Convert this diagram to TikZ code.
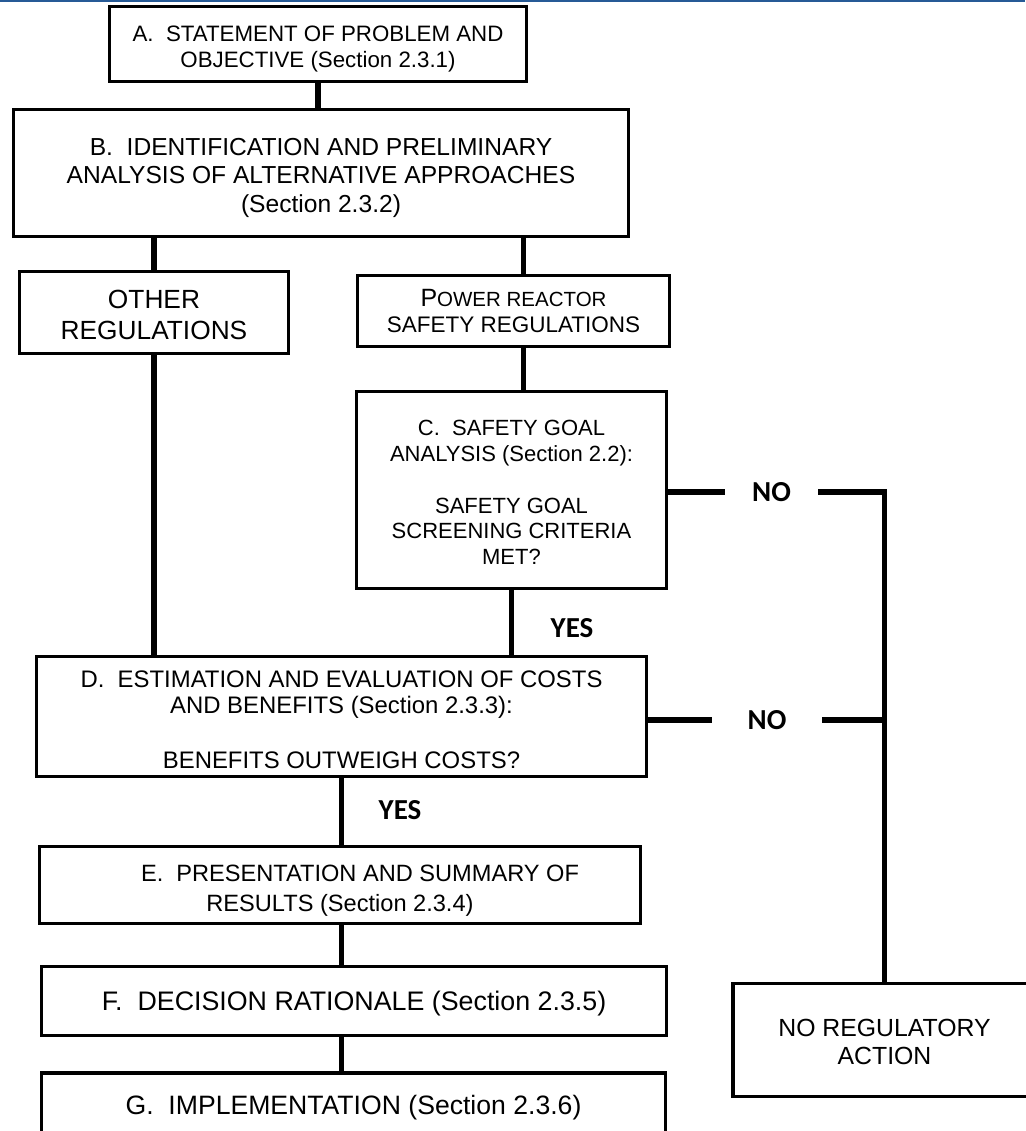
\documentclass[tikz,border=0pt]{standalone}
\usepackage{fontspec}
\setmainfont{Liberation Sans}
\newfontfamily\lblfont{Carlito}
\definecolor{topblue}{RGB}{38,90,150}
\newcommand\dn[1]{\rule{0pt}{\dimexpr0.75em+#1\relax}}
\begin{document}
\begin{tikzpicture}[x=1pt,y=-1pt,
  box/.style={draw, line width=3.5pt, rectangle, align=center, inner sep=0pt},
  conn/.style={line width=5.5pt, line join=miter},
  lbl/.style={font=\lblfont\bfseries\fontsize{29}{34}\selectfont, inner sep=0pt}]
\useasboundingbox (0,0) rectangle (1025,1131);
\fill[topblue] (0,0) rectangle (1025,2.5);

\node[box, minimum width=417, minimum height=75, font=\fontsize{22.3}{26}\selectfont] (A) at (318,44)
  {\dn{8pt}A.\ \ STATEMENT OF PROBLEM AND\\OBJECTIVE (Section 2.3.1)};
\node[box, minimum width=615, minimum height=127, font=\fontsize{24.6}{28.5}\selectfont] (B) at (321,173)
  {\dn{8pt}B.\ \ IDENTIFICATION AND PRELIMINARY\\ANALYSIS OF ALTERNATIVE APPROACHES\\(Section 2.3.2)};
\node[box, minimum width=269, minimum height=82, font=\fontsize{26.3}{31}\selectfont] (O) at (154,312.5)
  {\dn{4pt}OTHER\\REGULATIONS};
\node[box, minimum width=312, minimum height=71, font=\fontsize{22.5}{26}\selectfont] (P) at (513.5,311)
  {{\fontsize{25}{26}\selectfont P}{\fontsize{20.5}{26}\selectfont OWER REACTOR}\\SAFETY REGULATIONS};
\node[box, minimum width=310, minimum height=197, font=\fontsize{22}{25.8}\selectfont] (C) at (511.5,490)
  {\dn{4pt}C.\ \ SAFETY GOAL\\ANALYSIS (Section 2.2):\\[25.8pt]SAFETY GOAL\\SCREENING CRITERIA\\MET?};
\node[box, minimum width=610, minimum height=120, font=\fontsize{23.9}{26}\selectfont] (D) at (341.5,716.5)
  {\dn{6pt}D.\ \ ESTIMATION AND EVALUATION OF COSTS\\AND BENEFITS (Section 2.3.3):\\[29pt]BENEFITS OUTWEIGH COSTS?};
\node[box, minimum width=601, minimum height=77, font=\fontsize{23.6}{30}\selectfont] (E) at (340,885)
  {\dn{10pt}\hspace*{40pt}E.\ \ PRESENTATION AND SUMMARY OF\\RESULTS (Section 2.3.4)};
\node[box, minimum width=625, minimum height=69, font=\fontsize{26.8}{30}\selectfont] (F) at (354,1001)
  {\dn{4pt}F.\ \ DECISION RATIONALE (Section 2.3.5)};
\node[box, minimum width=624, minimum height=62, font=\fontsize{26.6}{30}\selectfont] (G) at (353.5,1104)
  {\dn{6pt}G.\ \ IMPLEMENTATION (Section 2.3.6)};
\node[box, minimum width=303, minimum height=113, font=\fontsize{24.8}{28}\selectfont] (NR) at (884.5,1040)
  {\dn{3pt}NO REGULATORY\\ACTION};

\node[lbl, minimum width=93] (noC) at (771.5,492) {NO};
\node[lbl, minimum width=110] (noD) at (767,720) {NO};
\node[lbl] (yesC) at (572,628) {YES};
\node[lbl] (yesD) at (400,810) {YES};

\draw[conn] (A.south) -- (A.south |- B.north);
\draw[conn] (O.north) -- (O.north |- B.south);
\draw[conn] ([xshift=10]P.north) -- ([xshift=10]P.north |- B.south);
\draw[conn] ([xshift=10]P.south) -- ([xshift=10]P.south |- C.north);
\draw[conn] (C.south) -- (C.south |- D.north);
\draw[conn] (O.south) -- (O.south |- D.north);
\draw[conn] (D.south) -- (D.south |- E.north);
\draw[conn] (D.south |- E.south) -- (D.south |- F.north);
\draw[conn] (D.south |- F.south) -- (D.south |- G.north);
\draw[conn] (C.east |- noC.west) -- (noC.west);
\draw[conn] (noC.east) -| (NR.north);
\draw[conn] (D.east |- noD.west) -- (noD.west);
\draw[conn] (noD.east) -- (noD.east -| NR.north);
\end{tikzpicture}
\end{document}
